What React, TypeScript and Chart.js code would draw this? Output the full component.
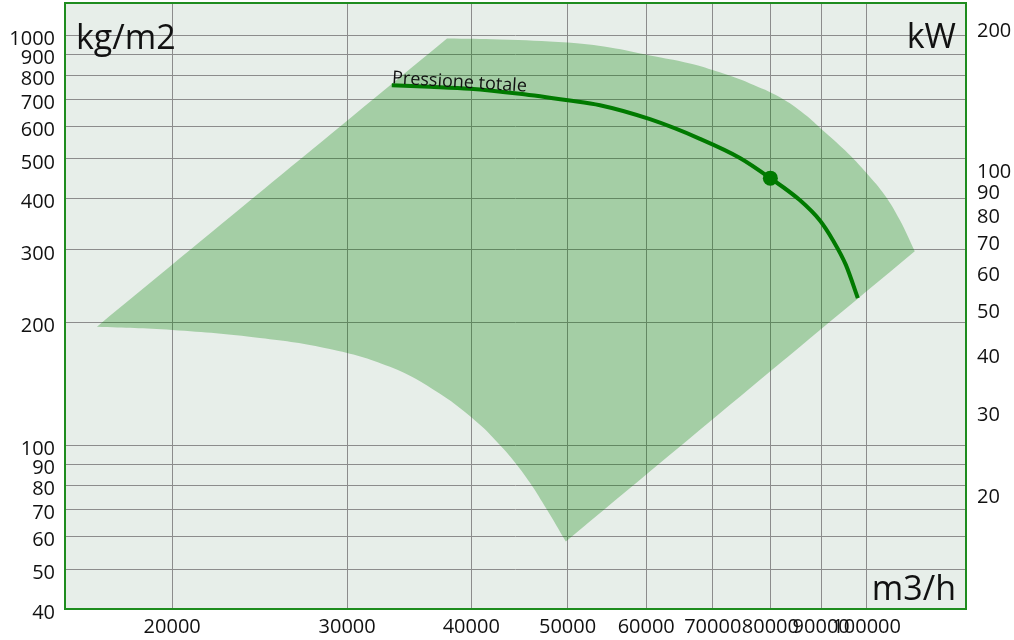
import React, { useEffect, useRef } from "react";
import { Chart, registerables } from "chart.js";

Chart.register(...registerables);

// Axis ticks
const flowTicks = [20000, 30000, 40000, 50000, 60000, 70000, 80000, 90000, 100000];
const pressureTicks = [40, 50, 60, 70, 80, 90, 100, 200, 300, 400, 500, 600, 700, 800, 900, 1000];
const powerTicks = [20, 30, 40, 50, 60, 70, 80, 90, 100, 200];

// Operating field (closed shape): m3/h and kg/m2 (corner points repeated to keep them sharp)
const regionFlow = [
  16800, 37810, 37810, 42740, 50040, 55160, 60520, 66400, 71160, 76300, 81800, 86660, 90380, 95100, 100060,
  104300, 108000, 111800, 111800, 49800, 49800, 47660, 45830, 44040, 42440, 40810, 37200, 33130, 28820, 24510,
  20000, 16800,
];
const regionPressure = [
  195, 983, 983, 978, 961, 935, 894, 855, 813, 764, 707, 642, 587, 525, 461, 408, 355, 298, 298, 58.4, 58.4,
  69.9, 81.3, 92.5, 102.3, 112.5, 133.8, 155.7, 172.2, 183.2, 191.5, 195,
];

// "Pressione totale" curve
const curveFlow = [
  33270, 36340, 39870, 44770, 50040, 53900, 60520, 67950, 74550, 80000, 85640, 89740, 92480, 95300, 97980,
];
const curvePressure = [756, 750, 742, 721, 695, 676, 625, 560, 503, 449, 397, 354, 317, 276, 229];

// Operating point
const pointFlow = [80000];
const pointPressure = [449];

const FONT = "'Open Sans', 'DejaVu Sans', sans-serif";

export default function App() {
  const ref = useRef<HTMLCanvasElement>(null);

  useEffect(() => {
    const canvas = ref.current!;
    const decor = {
      id: "decor",
      beforeDraw(chart: any) {
        const { ctx, chartArea: a } = chart;
        ctx.save();
        ctx.fillStyle = "#E7EEE9";
        ctx.fillRect(a.left, a.top, a.right - a.left, a.bottom - a.top);
        ctx.restore();
      },
      afterDatasetsDraw(chart: any) {
        const { ctx, chartArea: a, scales } = chart;
        ctx.save();
        ctx.fillStyle = "#111";
        ctx.font = `34px ${FONT}`;
        ctx.textBaseline = "alphabetic";
        ctx.textAlign = "left";
        ctx.fillText("kg/m2", a.left + 11, a.top + 46);
        ctx.textAlign = "right";
        ctx.fillText("kW", a.right - 10, a.top + 45);
        ctx.fillText("m3/h", a.right - 10, a.bottom - 9);
        // curve label
        const px = scales.x.getPixelForValue(curveFlow[0]);
        const py = scales.y.getPixelForValue(curvePressure[0]);
        ctx.translate(px, py - 2);
        ctx.rotate(0.062);
        ctx.textAlign = "left";
        ctx.font = `18px ${FONT}`;
        ctx.fillText("Pressione totale", 0, 0);
        ctx.restore();
        ctx.save();
        ctx.strokeStyle = "#1E8C1E";
        ctx.lineWidth = 2;
        ctx.strokeRect(a.left, a.top, a.right - a.left, a.bottom - a.top);
        ctx.restore();
      },
    };

    const tickFont = { family: FONT, size: 20 };
    const fitV = (w: number) => (s: any) => {
      s.width = w;
      s.paddingTop = 0;
      s.paddingBottom = 0;
    };

    const chart = new Chart(canvas, {
      type: "scatter",
      data: {
        datasets: [
          {
            label: "campo",
            data: regionFlow.map((x, i) => ({ x, y: regionPressure[i] })),
            showLine: true,
            fill: "shape",
            backgroundColor: "rgba(0,128,0,0.29)",
            borderWidth: 0,
            borderColor: "rgba(0,0,0,0)",
            pointRadius: 0,
            tension: 0.4,
            yAxisID: "y",
            order: 3,
          },
          {
            label: "Pressione totale",
            data: curveFlow.map((x, i) => ({ x, y: curvePressure[i] })),
            showLine: true,
            fill: false,
            borderColor: "#007A00",
            borderWidth: 4,
            pointRadius: 0,
            cubicInterpolationMode: "monotone",
            yAxisID: "y",
            order: 2,
          },
          {
            label: "punto",
            data: pointFlow.map((x, i) => ({ x, y: pointPressure[i] })),
            showLine: false,
            pointRadius: 7.5,
            pointBackgroundColor: "#007A00",
            pointBorderWidth: 0,
            yAxisID: "y",
            order: 1,
          },
        ],
      },
      options: {
        responsive: false,
        animation: false,
        events: [],
        layout: { autoPadding: false, padding: { top: 3, left: 0, right: 0, bottom: 0 } },
        plugins: { legend: { display: false }, tooltip: { enabled: false } },
        scales: {
          x: {
            type: "logarithmic",
            min: 15600,
            max: 125900,
            afterFit: (s: any) => {
              s.height = 31;
              s.paddingLeft = 0;
              s.paddingRight = 0;
            },
            afterBuildTicks: (s: any) => {
              s.ticks = flowTicks.map((v) => ({ value: v }));
            },
            ticks: {
              autoSkip: false,
              maxRotation: 0,
              minRotation: 0,
              color: "#111",
              font: tickFont,
              padding: 6,
              callback: (v: any) => String(v),
            },
            grid: { color: "#8C8C8C", lineWidth: 1, drawTicks: false },
            border: { display: false },
          },
          y: {
            type: "logarithmic",
            position: "left",
            min: 40,
            max: 1200,
            afterFit: fitV(65),
            afterBuildTicks: (s: any) => {
              s.ticks = pressureTicks.map((v) => ({ value: v }));
            },
            ticks: {
              autoSkip: false,
              color: "#111",
              font: tickFont,
              padding: 10,
              labelOffset: 4,
              callback: (v: any) => String(v),
            },
            grid: { color: "#8C8C8C", lineWidth: 1, drawTicks: false },
            border: { display: false },
          },
          y2: {
            type: "logarithmic",
            position: "right",
            min: 11.3,
            max: 226,
            afterFit: fitV(48),
            afterBuildTicks: (s: any) => {
              s.ticks = powerTicks.map((v) => ({ value: v }));
            },
            ticks: {
              autoSkip: false,
              color: "#111",
              font: tickFont,
              padding: 11,
              labelOffset: 4,
              callback: (v: any) => String(v),
            },
            grid: { display: false, drawTicks: false },
            border: { display: false },
          },
        },
      },
      plugins: [decor],
    } as any);

    return () => chart.destroy();
  }, []);

  return (
    <div style={{ position: "fixed", left: 0, top: 0, width: 1014, height: 640, background: "#fff" }}>
      <canvas ref={ref} width={1014} height={640} style={{ display: "block" }} />
    </div>
  );
}
